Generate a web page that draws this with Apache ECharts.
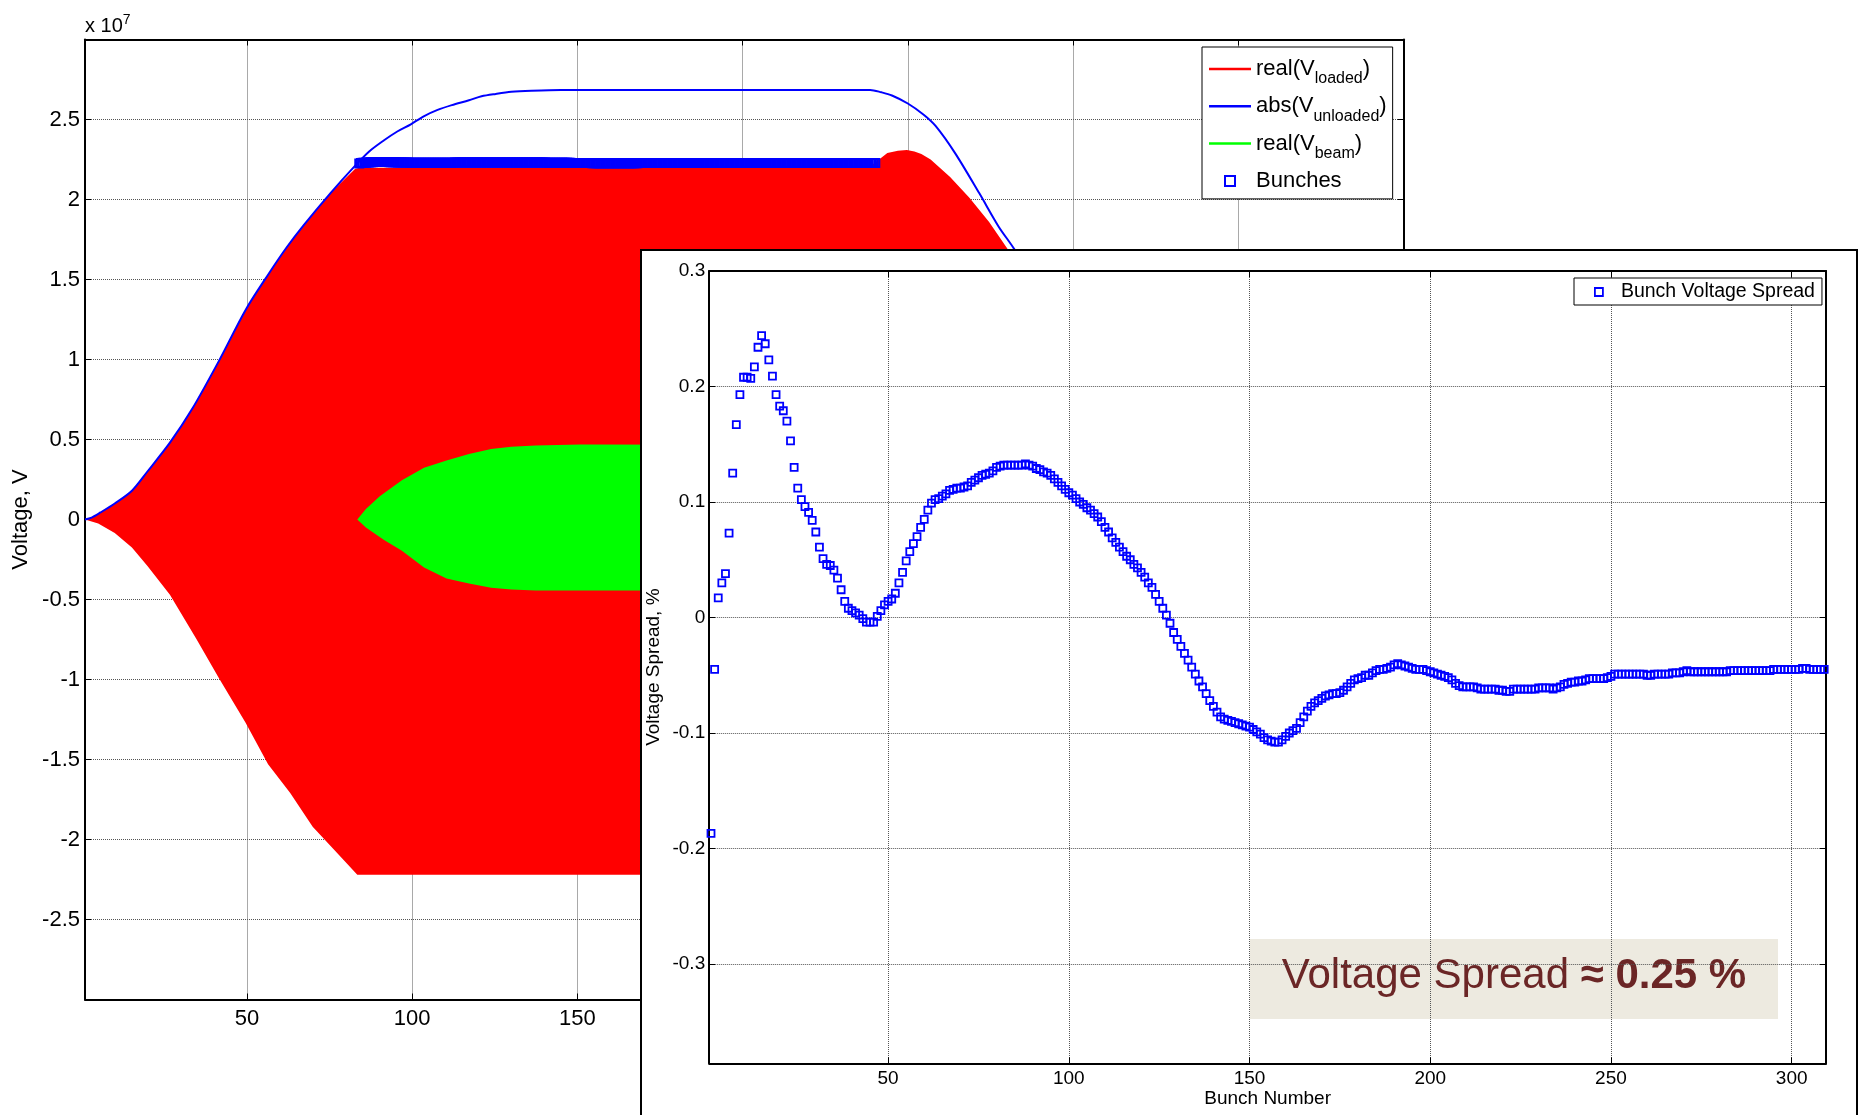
<!DOCTYPE html>
<html>
<head>
<meta charset="utf-8">
<script src="https://cdn.jsdelivr.net/npm/echarts@6/dist/echarts.min.js"></script>
<style>
  html, body { margin: 0; padding: 0; width: 1864px; height: 1115px; overflow: hidden; background: #fff; }
  #main { position: absolute; left: 0; top: 0; width: 1864px; height: 1115px; }
  #inset { position: absolute; left: 640px; top: 249px; width: 1218px; height: 900px;
           box-sizing: border-box; border: 2px solid #000; background: #fff; }
</style>
</head>
<body>
<div id="main"></div>
<div id="inset"></div>
<script>
const FONT = '"Liberation Sans", Arial, Helvetica, sans-serif';

// ---- Cavity voltages: time axis in RF periods, voltage in units of 1e7 V ----
// Envelope of the fast-oscillating real part of the loaded cavity voltage
const loadedUpper = [
  [1, 0], [3, 0.012], [5.7, 0.044], [10, 0.10], [15.2, 0.18], [19.9, 0.30], [26.7, 0.48],
  [33.4, 0.69], [41.5, 0.99], [49.6, 1.31], [56.4, 1.53], [62, 1.70], [67.2, 1.84],
  [75.3, 2.04], [82.7, 2.19], [84, 2.198], [238, 2.198], [241.3, 2.25], [243.8, 2.29],
  [247, 2.305], [249.7, 2.31], [252, 2.30], [254.1, 2.285], [256.9, 2.25], [262.8, 2.14],
  [268.7, 2.01], [274.6, 1.86], [280.2, 1.69], [290, 1.38], [300, 1.05]
];
const loadedLower = [
  [1, 0], [5, -0.025], [10, -0.085], [15.2, -0.175], [19.9, -0.29], [26.7, -0.47],
  [34.8, -0.75], [41.5, -0.99], [49.6, -1.27], [56.4, -1.53], [63.1, -1.71], [69.9, -1.92],
  [78, -2.10], [83.4, -2.22], [238, -2.22], [249.7, -2.31], [262.8, -2.14], [280.2, -1.69],
  [300, -1.05]
];
// Envelope of the beam-induced voltage
const beamUpper = [
  [83.4, 0], [86, 0.065], [90.2, 0.145], [96.9, 0.245], [103.6, 0.323], [110.4, 0.368],
  [117.2, 0.41], [123.9, 0.44], [130, 0.455], [137.4, 0.462], [150.9, 0.469], [240, 0.466],
  [250, 0.45], [270, 0.30]
];
const beamLower = [
  [83.4, 0], [86, -0.05], [91.5, -0.128], [96.9, -0.196], [103.6, -0.30], [110.4, -0.368],
  [117.2, -0.40], [123.9, -0.426], [130, -0.438], [137.4, -0.444], [240, -0.444],
  [250, -0.43], [270, -0.30]
];
// Magnitude of the unloaded cavity voltage
const unloadedAbs = [
  [1, 0], [3, 0.012], [5.7, 0.044], [10, 0.10], [15.2, 0.18], [19.9, 0.30], [26.7, 0.48],
  [33.4, 0.69], [41.5, 0.99], [49.6, 1.31], [56.4, 1.53], [62, 1.70], [67.2, 1.84],
  [75.3, 2.04], [82.7, 2.21], [87, 2.30], [91.5, 2.37], [95.5, 2.425], [99.6, 2.47],
  [103.5, 2.52], [107.7, 2.56], [112, 2.59], [117.2, 2.62], [121, 2.645], [125.3, 2.66],
  [130, 2.673], [136.1, 2.68], [145, 2.685], [238.6, 2.685], [242, 2.67], [245.2, 2.65],
  [250, 2.60], [254.8, 2.53], [258.4, 2.46], [264.3, 2.29], [271.6, 2.04], [277.5, 1.83],
  [282.2, 1.69], [290, 1.42], [300, 1.08]
];

// ---- Bunch train ----
const bunchFirst = 84;       // time of the first bunch
const bunchSpacing = 0.507;  // bunch-to-bunch spacing on the time axis
const bunchLevel = 2.229;    // mean bunch voltage, 1e7 V

// Relative bunch voltage deviation, %, bunches 1..309
const voltageSpread = [
  -0.187, -0.045, 0.017, 0.030, 0.038, 0.073, 0.125, 0.167, 0.193, 0.208,
  0.208, 0.207, 0.217, 0.234, 0.244, 0.237, 0.223, 0.209, 0.193, 0.183,
  0.179, 0.170, 0.153, 0.130, 0.112, 0.102, 0.096, 0.091, 0.084, 0.074,
  0.061, 0.051, 0.046, 0.045, 0.041, 0.034, 0.024, 0.014, 0.008, 0.006,
  0.004, 0.002, -0.001, -0.004, -0.004, -0.004, 0.001, 0.006, 0.011, 0.014,
  0.016, 0.021, 0.030, 0.039, 0.049, 0.057, 0.064, 0.070, 0.078, 0.085,
  0.093, 0.099, 0.102, 0.103, 0.105, 0.107, 0.110, 0.111, 0.112, 0.112,
  0.113, 0.114, 0.117, 0.119, 0.121, 0.123, 0.124, 0.125, 0.127, 0.130,
  0.131, 0.132, 0.132, 0.132, 0.132, 0.132, 0.132, 0.133, 0.132, 0.131,
  0.129, 0.128, 0.126, 0.125, 0.123, 0.120, 0.117, 0.114, 0.111, 0.108,
  0.106, 0.103, 0.100, 0.098, 0.095, 0.093, 0.090, 0.087, 0.083, 0.078,
  0.074, 0.069, 0.065, 0.061, 0.057, 0.053, 0.050, 0.046, 0.043, 0.039,
  0.035, 0.030, 0.026, 0.020, 0.014, 0.008, 0.002, -0.005, -0.013, -0.019,
  -0.025, -0.031, -0.037, -0.043, -0.049, -0.055, -0.060, -0.066, -0.072, -0.077,
  -0.082, -0.086, -0.088, -0.089, -0.090, -0.091, -0.092, -0.093, -0.094, -0.095,
  -0.097, -0.099, -0.101, -0.104, -0.106, -0.107, -0.108, -0.108, -0.106, -0.103,
  -0.100, -0.098, -0.096, -0.091, -0.086, -0.081, -0.077, -0.074, -0.072, -0.070,
  -0.068, -0.067, -0.066, -0.066, -0.065, -0.063, -0.060, -0.057, -0.054, -0.053,
  -0.052, -0.050, -0.050, -0.048, -0.046, -0.045, -0.045, -0.044, -0.043, -0.041,
  -0.040, -0.041, -0.042, -0.043, -0.044, -0.045, -0.045, -0.045, -0.046, -0.047,
  -0.048, -0.049, -0.050, -0.051, -0.052, -0.054, -0.057, -0.059, -0.060, -0.060,
  -0.060, -0.060, -0.061, -0.062, -0.062, -0.062, -0.062, -0.062, -0.063, -0.063,
  -0.064, -0.064, -0.062, -0.062, -0.062, -0.062, -0.062, -0.062, -0.062, -0.061,
  -0.061, -0.061, -0.061, -0.062, -0.061, -0.060, -0.058, -0.057, -0.056, -0.056,
  -0.055, -0.055, -0.054, -0.053, -0.053, -0.053, -0.053, -0.053, -0.052, -0.051,
  -0.049, -0.049, -0.049, -0.049, -0.049, -0.049, -0.049, -0.049, -0.049, -0.050,
  -0.050, -0.049, -0.049, -0.049, -0.049, -0.049, -0.048, -0.048, -0.048, -0.047,
  -0.046, -0.047, -0.047, -0.047, -0.047, -0.047, -0.047, -0.047, -0.047, -0.047,
  -0.047, -0.047, -0.046, -0.046, -0.046, -0.046, -0.046, -0.046, -0.046, -0.046,
  -0.046, -0.046, -0.046, -0.046, -0.045, -0.045, -0.045, -0.045, -0.045, -0.045,
  -0.045, -0.045, -0.044, -0.044, -0.045, -0.045, -0.045, -0.045, -0.045
];

// ---- Tick labels ----
const backXTicks = [50, 100, 150, 200, 250, 300, 350];
const backYTicks = [-2.5, -2, -1.5, -1, -0.5, 0, 0.5, 1, 1.5, 2, 2.5];
const insetXTicks = [50, 100, 150, 200, 250, 300];
const insetYTicks = [-0.3, -0.2, -0.1, 0, 0.1, 0.2, 0.3];

function tickFormatter(list) {
  return function (v) {
    const hit = list.find(t => Math.abs(t - v) < 1e-6);
    return hit === undefined ? '' : String(hit);
  };
}

const GRID_LINE = { show: true, lineStyle: { color: '#555', type: 'dotted', width: 1 } };
const AXIS_LINE = { show: true, onZero: false, lineStyle: { color: '#000', width: 2 } };
const AXIS_TICK = { show: true, inside: true, length: 6, lineStyle: { color: '#000', width: 1 } };
const LINE_ICON = 'path://M0,0H42V2.5H0Z';
const SQUARE_ICON = 'path://M0,0H10V10H0Z';

// Filled band between an upper and a lower envelope, placed through the axis scales
function bandSeries(name, upper, lower, color) {
  return {
    name: name,
    type: 'custom',
    itemStyle: { color: color },
    data: [upper[0]],
    renderItem: function (params, api) {
      const pts = upper.map(p => api.coord(p))
        .concat(lower.slice().reverse().map(p => api.coord(p)));
      return { type: 'polygon', shape: { points: pts }, style: { fill: color, stroke: null } };
    }
  };
}

// ================= Cavity voltage chart =================
// Every legend row ends with a subscript-sized token so that all rows share one height
const legendLabels = {
  'real(V_loaded)': '{m|real(V}{s|loaded}{m|)}',
  'abs(V_unloaded)': '{m|abs(V}{s|unloaded}{m|)}',
  'real(V_beam)': '{m|real(V}{s|beam}{m|)}',
  'Bunches': '{m|Bunches}{s| }'
};

const bunchPoints = voltageSpread.map((s, i) => [bunchFirst + i * bunchSpacing, bunchLevel * (1 + s / 100)]);

const mainChart = echarts.init(document.getElementById('main'), null, { renderer: 'canvas' });
mainChart.setOption({
  animation: false,
  grid: { left: 85, top: 39.5, right: 460.5, bottom: 115.5, outerBoundsMode: 'none' },
  xAxis: [
    {
      type: 'value', min: 1, max: 400, splitNumber: 8,
      axisLine: AXIS_LINE, axisTick: AXIS_TICK,
      axisLabel: { show: true, margin: 8, fontSize: 22, color: '#000', fontFamily: FONT,
                   formatter: tickFormatter(backXTicks) },
      splitLine: GRID_LINE
    },
    {
      type: 'value', position: 'top', min: 1, max: 400, splitNumber: 8,
      axisLine: AXIS_LINE, axisTick: AXIS_TICK,
      axisLabel: { show: false }, splitLine: { show: false }
    }
  ],
  yAxis: [
    {
      type: 'value', min: -3, max: 3, interval: 0.5,
      name: 'Voltage, V', nameLocation: 'middle', nameGap: 53, nameMoveOverlap: false,
      nameTextStyle: { fontSize: 22, color: '#000', fontFamily: FONT },
      axisLine: AXIS_LINE, axisTick: AXIS_TICK,
      axisLabel: { show: true, margin: 5, fontSize: 22, color: '#000', fontFamily: FONT,
                   formatter: tickFormatter(backYTicks) },
      splitLine: GRID_LINE
    },
    {
      type: 'value', position: 'right', min: -3, max: 3, interval: 0.5,
      axisLine: AXIS_LINE, axisTick: AXIS_TICK,
      axisLabel: { show: false }, splitLine: { show: false }
    }
  ],
  legend: {
    orient: 'vertical', left: 1202, top: 47,
    itemWidth: 42, itemHeight: 10, itemGap: 1.3,
    padding: [4, 6, 0, 7],
    backgroundColor: '#fff', borderColor: '#000', borderWidth: 1, borderRadius: 0,
    selectedMode: false,
    data: [
      { name: 'real(V_loaded)', icon: LINE_ICON, itemStyle: { color: '#ff0000', borderWidth: 0 } },
      { name: 'abs(V_unloaded)', icon: LINE_ICON, itemStyle: { color: '#0000ff', borderWidth: 0 } },
      { name: 'real(V_beam)', icon: LINE_ICON, itemStyle: { color: '#00ff00', borderWidth: 0 } },
      { name: 'Bunches', icon: SQUARE_ICON,
        itemStyle: { color: 'rgba(0,0,0,0)', borderColor: '#0000ff', borderWidth: 2 } }
    ],
    formatter: name => legendLabels[name],
    textStyle: {
      color: '#000', fontFamily: FONT, fontSize: 22,
      rich: {
        m: { fontSize: 22, lineHeight: 26, fontFamily: FONT, color: '#000' },
        s: { fontSize: 16, lineHeight: 4, padding: [20, 0, 0, 0], fontFamily: FONT, color: '#000' }
      }
    }
  },
  graphic: [
    {
      type: 'text', x: 85, y: 13,
      style: {
        text: '{a|x 10}{b|7}',
        rich: {
          a: { fontSize: 20, lineHeight: 26, fontFamily: FONT, fill: '#000' },
          b: { fontSize: 14, lineHeight: 2, verticalAlign: 'top', fontFamily: FONT, fill: '#000' }
        }
      }
    }
  ],
  series: [
    bandSeries('real(V_loaded)', loadedUpper, loadedLower, '#ff0000'),
    {
      name: 'abs(V_unloaded)', type: 'line', data: unloadedAbs,
      showSymbol: false, symbol: 'none', smooth: 0.3,
      itemStyle: { color: '#0000ff' },
      lineStyle: { color: '#0000ff', width: 2 }
    },
    bandSeries('real(V_beam)', beamUpper, beamLower, '#00ff00'),
    {
      name: 'Bunches', type: 'scatter', data: bunchPoints,
      symbol: 'rect', symbolSize: 8,
      itemStyle: { color: 'rgba(0,0,0,0)', borderColor: '#0000ff', borderWidth: 2, opacity: 1 }
    }
  ]
});

// ================= Bunch voltage spread chart =================
const spreadPoints = voltageSpread.map((s, i) => [i + 1, s]);

const insetChart = echarts.init(document.getElementById('inset'), null, { renderer: 'canvas' });
insetChart.setOption({
  animation: false,
  grid: { left: 67.2, top: 20, right: 30, bottom: 83.7, outerBoundsMode: 'none' },
  xAxis: [
    {
      type: 'value', min: 0.5, max: 309.5, splitNumber: 6,
      name: 'Bunch Number', nameLocation: 'middle', nameGap: 26, nameMoveOverlap: false,
      nameTextStyle: { fontSize: 19, color: '#000', fontFamily: FONT },
      axisLine: AXIS_LINE, axisTick: AXIS_TICK,
      axisLabel: { show: true, margin: 6, fontSize: 19, color: '#000', fontFamily: FONT,
                   formatter: tickFormatter(insetXTicks) },
      splitLine: GRID_LINE
    },
    {
      type: 'value', position: 'top', min: 0.5, max: 309.5, splitNumber: 6,
      axisLine: AXIS_LINE, axisTick: AXIS_TICK,
      axisLabel: { show: false }, splitLine: { show: false }
    }
  ],
  yAxis: [
    {
      type: 'value', min: -0.386, max: 0.3, splitNumber: 7,
      name: 'Voltage Spread, %', nameLocation: 'middle', nameGap: 46, nameMoveOverlap: false,
      nameTextStyle: { fontSize: 19, color: '#000', fontFamily: FONT },
      axisLine: AXIS_LINE, axisTick: AXIS_TICK,
      axisLabel: { show: true, margin: 4, fontSize: 19, color: '#000', fontFamily: FONT,
                   formatter: tickFormatter(insetYTicks) },
      splitLine: GRID_LINE
    },
    {
      type: 'value', position: 'right', min: -0.386, max: 0.3, splitNumber: 7,
      axisLine: AXIS_LINE, axisTick: AXIS_TICK,
      axisLabel: { show: false }, splitLine: { show: false }
    }
  ],
  legend: {
    orient: 'vertical', left: 932, top: 27,
    itemWidth: 34, itemHeight: 8, padding: [4, 7, 3, 20],
    backgroundColor: '#fff', borderColor: '#000', borderWidth: 1, borderRadius: 0,
    selectedMode: false,
    data: [
      { name: 'Bunch Voltage Spread', icon: SQUARE_ICON,
        itemStyle: { color: 'rgba(0,0,0,0)', borderColor: '#0000ff', borderWidth: 1.8 } }
    ],
    textStyle: { color: '#000', fontFamily: FONT, fontSize: 19.5 }
  },
  graphic: [
    {
      type: 'group', x: 608, y: 688,
      children: [
        { type: 'rect', shape: { x: 0, y: 0, width: 528, height: 80 }, style: { fill: '#EDEAE0' } },
        {
          type: 'text', x: 264, y: 37,
          style: {
            text: '{r|Voltage Spread }{b|≈ 0.25 %}',
            align: 'center', verticalAlign: 'middle',
            rich: {
              r: { fontSize: 42, fontFamily: FONT, fill: '#6B2626' },
              b: { fontSize: 42, fontWeight: 'bold', fontFamily: FONT, fill: '#6B2626' }
            }
          }
        }
      ]
    }
  ],
  series: [
    {
      name: 'Bunch Voltage Spread', type: 'scatter', data: spreadPoints,
      symbol: 'rect', symbolSize: 7,
      itemStyle: { color: 'rgba(0,0,0,0)', borderColor: '#0000ff', borderWidth: 1.8, opacity: 1 }
    }
  ]
});
</script>
</body>
</html>
